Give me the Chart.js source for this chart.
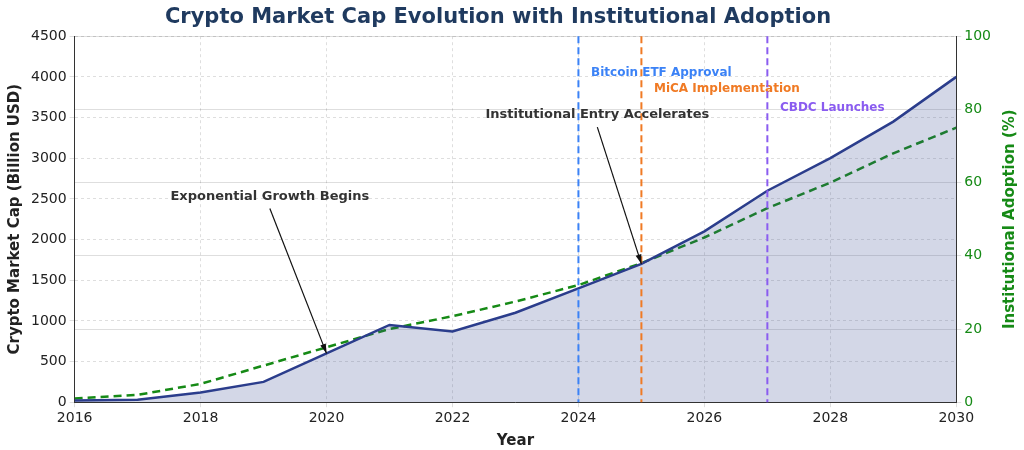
<!DOCTYPE html>
<html><head><meta charset="utf-8">
<script src="https://cdn.jsdelivr.net/npm/chart.js@4/dist/chart.umd.min.js"></script>
<style>html,body{margin:0;background:#fff}#wrap{width:1024px;height:450px}</style>
</head><body><div id="wrap"><canvas id="c"></canvas></div>
<script>
const years = [2016,2017,2018,2019,2020,2021,2022,2023,2024,2025,2026,2027,2028,2029,2030];
const marketCap = [20,30,120,250,600,950,870,1100,1400,1700,2100,2600,3000,3450,4000];
const adoption = [1,2,5,10,15,20,23.5,27.5,32,38,45,53,60,68,75];
const events = [
  {year:2024, label:"Bitcoin ETF Approval", y:4050, color:"#3b82f6"},
  {year:2025, label:"MiCA Implementation", y:3850, color:"#f07a24"},
  {year:2027, label:"CBDC Launches", y:3620, color:"#8a5cf0"}
];
const notes = [
  {text:"Exponential Growth Begins", tx:2019.1, ty:2530, ax:2020, ay:600},
  {text:"Institutional Entry Accelerates", tx:2024.3, ty:3530, ax:2025, ay:1700}
];

const overlay = {
  id:"overlay",
  afterDatasetsDraw(chart){
    const {ctx, chartArea:a, scales:{x,y}} = chart;
    ctx.save();
    events.forEach(e => {
      const px = x.getPixelForValue(e.year);
      ctx.strokeStyle = e.color; ctx.lineWidth = 2; ctx.setLineDash([7,4]);
      ctx.beginPath(); ctx.moveTo(px,a.top); ctx.lineTo(px,a.bottom); ctx.stroke();
      ctx.setLineDash([]);
      ctx.fillStyle = e.color; ctx.font = "bold 12px 'DejaVu Sans'";
      ctx.textAlign = "left"; ctx.textBaseline = "middle";
      ctx.fillText(e.label, x.getPixelForValue(e.year+0.2), y.getPixelForValue(e.y));
    });
    notes.forEach(n => {
      const tx = x.getPixelForValue(n.tx), ty = y.getPixelForValue(n.ty);
      const ax = x.getPixelForValue(n.ax), ay = y.getPixelForValue(n.ay);
      ctx.fillStyle = "#333"; ctx.font = "bold 13px 'DejaVu Sans'";
      ctx.textAlign = "center"; ctx.textBaseline = "middle";
      ctx.fillText(n.text, tx, ty);
      const sx = tx, sy = ty + 12;
      ctx.strokeStyle = "#111"; ctx.lineWidth = 1.2;
      ctx.beginPath(); ctx.moveTo(sx,sy); ctx.lineTo(ax,ay); ctx.stroke();
      const ang = Math.atan2(ay-sy, ax-sx);
      ctx.fillStyle = "#111"; ctx.beginPath();
      ctx.moveTo(ax,ay);
      ctx.lineTo(ax-10*Math.cos(ang-0.3), ay-10*Math.sin(ang-0.3));
      ctx.lineTo(ax-10*Math.cos(ang+0.3), ay-10*Math.sin(ang+0.3));
      ctx.closePath(); ctx.fill();
    });
    // right axis title, reading bottom to top
    ctx.translate(chart.width - 14, (a.top + a.bottom)/2);
    ctx.rotate(-Math.PI/2);
    ctx.fillStyle = "#168a16"; ctx.font = "bold 15px 'DejaVu Sans'";
    ctx.textAlign = "center"; ctx.textBaseline = "middle";
    ctx.fillText("Institutional Adoption (%)", 0, 0);
    ctx.restore();
  }
};

const grid = {color:"rgba(0,0,0,0.13)", tickLength:5};
new Chart(document.getElementById("c"), {
  type:"line",
  data:{ datasets:[
    { label:"Market Cap", data:years.map((yr,i)=>({x:yr,y:marketCap[i]})), borderColor:"#2b3d8c",
      backgroundColor:"rgba(55,75,145,0.22)", fill:"origin", borderWidth:2.5, pointRadius:0, tension:0, yAxisID:"y" },
    { label:"Adoption", data:years.map((yr,i)=>({x:yr,y:adoption[i]})), borderColor:"#168a16",
      borderDash:[8,5], borderWidth:2.5, pointRadius:0, fill:false, tension:0, yAxisID:"y1" }
  ]},
  options:{
    responsive:true, maintainAspectRatio:false, animation:false,
    layout:{padding:{left:2,right:30,top:0,bottom:0}},
    plugins:{ legend:{display:false}, tooltip:{enabled:false},
      title:{display:true, text:"Crypto Market Cap Evolution with Institutional Adoption",
        color:"#1f3a5f", font:{size:21, weight:"bold", family:"'DejaVu Sans'"}, padding:{top:5,bottom:6}} },
    scales:{
      x:{ type:"linear", min:2016, max:2030, ticks:{stepSize:2, color:"#222", font:{size:14, family:"'DejaVu Sans'"}, callback:v=>String(v)},
          grid:{...grid, borderDash:[3,3]}, border:{color:"#333", dash:[3,3]},
          title:{display:true, text:"Year", color:"#222", padding:{top:2,bottom:0}, font:{size:15, weight:"bold", family:"'DejaVu Sans'"}} },
      y:{ min:0, max:4500, ticks:{stepSize:500, color:"#222", font:{size:14, family:"'DejaVu Sans'"}, callback:v=>String(v)},
          grid:grid, border:{color:"#333", dash:[3,3]},
          title:{display:true, text:"Crypto Market Cap (Billion USD)", color:"#222", font:{size:15, weight:"bold", family:"'DejaVu Sans'"}} },
      y1:{ position:"right", min:0, max:100, ticks:{stepSize:20, color:"#168a16", font:{size:14, family:"'DejaVu Sans'"}},
          grid:grid, border:{color:"#333"} }
    }
  },
  plugins:[overlay]
});
</script></body></html>
